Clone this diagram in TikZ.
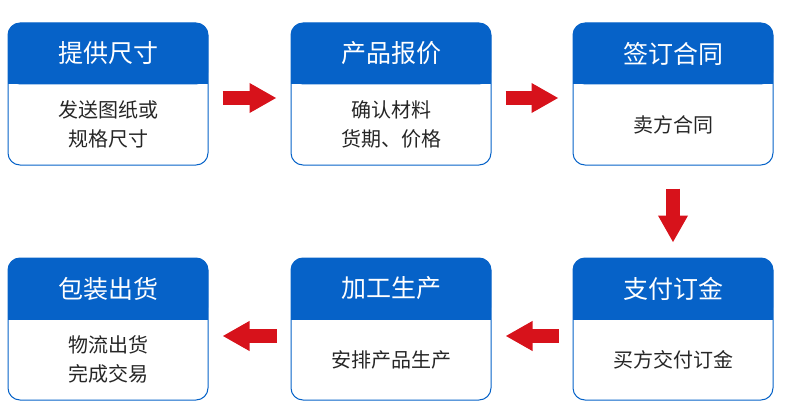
\documentclass[tikz,border=0pt]{standalone}
\usepackage{fontspec}
\setmainfont{Noto Sans CJK SC}
\usetikzlibrary{arrows.meta}
\definecolor{cardblue}{HTML}{0662C8}
\definecolor{arrowred}{HTML}{D7121B}
\tikzset{
  card/.style={draw=cardblue, line width=1pt, rounded corners=12pt,
    minimum width=200pt, minimum height=142pt, inner sep=0pt},
  head/.style={fill=cardblue, rounded corners=12pt},
  title/.style={text=white, font=\fontsize{25}{28}\selectfont},
  body/.style={text=black!85, font=\fontsize{20}{29}\selectfont, align=center},
  flow/.style={arrowred, line width=14pt,
    -{Triangle[length=27pt,width=28pt]}}
}
\newcommand{\card}[5]{%
  \node[card] (#1) at (#2,#3) {};
  \fill[head] (#1.north west) ++(0.5pt,-0.5pt) rectangle ([xshift=-0.5pt,yshift=-62pt]#1.north east);
  \fill[cardblue] ([xshift=0.5pt,yshift=-62pt]#1.north west) rectangle ([xshift=-0.5pt,yshift=-50pt]#1.north east);
  \node[title] (#1t) at ([yshift=-31pt]#1.north) {#4};
  \node[body] (#1b) at ([yshift=-102pt]#1.north) {#5};
}
\begin{document}
\begin{tikzpicture}[x=1pt,y=-1pt]
\useasboundingbox (0,0) rectangle (790,420);
\card{c1}{108}{94}{提供尺寸}{发送图纸或\\规格尺寸}
\card{c2}{391}{94}{产品报价}{确认材料\\货期、价格}
\card{c3}{673}{94}{签订合同}{卖方合同}
\card{c6}{108}{329}{包装出货}{物流出货\\完成交易}
\card{c5}{391}{329}{加工生产}{安排产品生产}
\card{c4}{673}{329}{支付订金}{买方交付订金}
% connectors
\draw[flow, shorten <=14pt, shorten >=14pt] ([yshift=-4pt]c1.east) -- ([yshift=-4pt]c2.west);
\draw[flow, shorten <=14pt, shorten >=14pt] ([yshift=-4pt]c2.east) -- ([yshift=-4pt]c3.west);
\draw[flow, shorten <=23pt, shorten >=15pt] (c3.south) -- (c4.north);
\draw[flow, shorten <=14pt, shorten >=14pt] ([yshift=-7pt]c4.west) -- ([yshift=-7pt]c5.east);
\draw[flow, shorten <=14pt, shorten >=14pt] ([yshift=-7pt]c5.west) -- ([yshift=-7pt]c6.east);
\end{tikzpicture}
\end{document}
